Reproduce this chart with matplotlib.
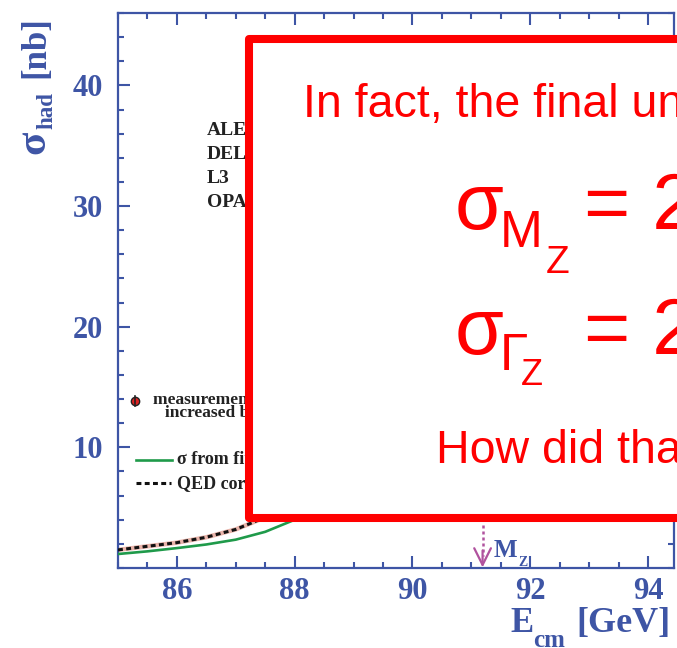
import matplotlib
matplotlib.use("Agg")
import matplotlib.pyplot as plt
from matplotlib.ticker import MultipleLocator
from matplotlib.patches import Rectangle
from matplotlib.lines import Line2D

# hadronic cross-section around the Z pole
e_curve = [85.0, 85.5, 86.0, 86.5, 87.0, 87.5, 88.0, 88.5, 89.0, 89.5, 90.0,
           90.5, 91.0, 91.25, 91.5, 92.0, 92.5, 93.0, 93.5, 94.0, 94.5]
sigma_fit = [1.16, 1.38, 1.65, 1.95, 2.35, 3.0, 4.0, 5.6, 8.1, 11.6, 17.0,
             24.0, 29.4, 30.5, 30.1, 26.3, 21.4, 17.0, 13.4, 10.8, 8.8]
sigma_qed = [1.5, 1.8, 2.1, 2.55, 3.2, 4.2, 5.6, 7.8, 11.2, 16.5, 24.5,
             34.0, 40.6, 41.5, 39.6, 32.4, 24.6, 18.4, 14.0, 10.9, 8.7]

e_meas = [89.43, 90.22, 91.19, 91.97, 92.96, 93.71]
sigma_meas = [11.0, 20.3, 30.4, 26.6, 17.3, 12.3]
err_meas = [0.4, 0.5, 0.6, 0.5, 0.4, 0.4]

experiments = ["ALEPH", "DELPHI", "L3", "OPAL"]
y_ticks = [10, 20, 30, 40]
mz = 91.19

BLUE = "#3E55A5"
GREEN = "#1F9A4A"
RED = "#FF0000"
MAGENTA = "#B0529E"
SERIF = "Liberation Serif"
SANS = "Liberation Sans"

W, H = 677, 648


def px(x, y):
    # pixel position -> figure fraction
    return x / W, 1 - y / H


fig = plt.figure(figsize=(W / 100, H / 100), dpi=100)
ax = fig.add_axes([118 / W, 1 - 568 / H, (674 - 118) / W, (568 - 13) / H])

ax.plot(e_curve, sigma_qed, color="#E9B4AA", lw=3.2, zorder=2)
ax.plot(e_curve, sigma_qed, color="#111111", lw=2.2, ls=(0, (1.6, 1.1)), zorder=3)
ax.plot(e_curve, sigma_fit, color=GREEN, lw=1.9, zorder=3)
ax.errorbar(e_meas, sigma_meas, yerr=err_meas, fmt="o", ms=6, color="#DD2222",
            mec="#222222", ecolor="#222222", elinewidth=1.2, zorder=4)

# M_Z marker
ax.plot([mz, mz], [3.6, 1.0], color=MAGENTA, lw=1.8, ls=(0, (1.2, 1.2)))
ax.annotate("", xy=(mz, 0.05), xytext=(mz, 1.45),
            arrowprops=dict(arrowstyle="->,head_length=1.2,head_width=0.6",
                            color=MAGENTA, lw=1.6, shrinkA=0, shrinkB=0))

ax.set_xlim(85, 94.44)
ax.set_ylim(0, 46)
ax.xaxis.set_major_locator(MultipleLocator(2))
ax.xaxis.set_minor_locator(MultipleLocator(0.5))
ax.set_yticks(y_ticks)
ax.yaxis.set_minor_locator(MultipleLocator(2))
ax.tick_params(which="both", direction="in", top=True, right=True, color=BLUE,
               width=1.5)
ax.tick_params(which="major", length=8.5)
ax.tick_params(which="minor", length=4.5)
ax.tick_params(axis="x", pad=6.5)
ax.tick_params(axis="y", pad=11)
for lab in ax.get_xticklabels() + ax.get_yticklabels():
    lab.set_fontfamily(SERIF)
    lab.set_fontweight("bold")
    lab.set_fontsize(22)
    lab.set_color(BLUE)
for sp in ax.spines.values():
    sp.set_color(BLUE)
    sp.set_linewidth(1.6)

# axis titles
ytitle = dict(rotation=90, rotation_mode="anchor", ha="left", va="baseline",
              color=BLUE, family=SERIF, weight="bold")
fig.text(*px(44, 154), "σ", fontsize=31, **ytitle)
fig.text(*px(52, 129), "had", fontsize=16.5, **ytitle)
fig.text(*px(44, 78), "[nb]", fontsize=25, **ytitle)

xtitle = dict(ha="left", va="baseline", color=BLUE, family=SERIF, weight="bold")
fig.text(*px(510, 632), "E", fontsize=25, **xtitle)
fig.text(*px(533, 647), "cm", fontsize=18, **xtitle)
fig.text(*px(576, 632), "[GeV]", fontsize=26, **xtitle)

fig.text(*px(494, 557), "M", fontsize=18, **xtitle)
fig.text(*px(518, 566), "Z", fontsize=10, **xtitle)

# legend
leg = dict(ha="left", va="baseline", color="#222222", family=SERIF, weight="bold")
for i, name in enumerate(experiments):
    fig.text(*px(207, 135 + 24 * i), name, fontsize=14, **leg)

fig.add_artist(Line2D([px(135, 0)[0]], [px(0, 401)[1]], marker="o", ms=6,
                      color="#DD2222", mec="#222222", transform=fig.transFigure))
fig.add_artist(Line2D([px(135, 0)[0]] * 2, [px(0, 396)[1], px(0, 406)[1]],
                      color="#222222", lw=1.2, transform=fig.transFigure))
fig.text(*px(153, 404), "measurements, error bars", fontsize=12.5, **leg)
fig.text(*px(165, 417), "increased by factor 10", fontsize=12.5, **leg)

fig.add_artist(Line2D([px(136, 0)[0], px(172, 0)[0]], [px(0, 460)[1]] * 2,
                      color=GREEN, lw=1.9, transform=fig.transFigure))
fig.text(*px(177, 464), "σ from fit", fontsize=13, **leg)
fig.add_artist(Line2D([px(136, 0)[0], px(171, 0)[0]], [px(0, 483)[1]] * 2,
                      color="#111111", lw=2.2, ls=(0, (1.6, 1.1)),
                      transform=fig.transFigure))
fig.text(*px(177, 488), "QED corrected", fontsize=13, **leg)

# overlay box
x0, y0 = px(249, 517.5)
x1, y1 = px(760, 39)
fig.add_artist(Rectangle((x0, y0), x1 - x0, y1 - y0, transform=fig.transFigure,
                         facecolor="white", edgecolor=RED, lw=5.8,
                         joinstyle="round", zorder=10))

box = dict(ha="left", va="baseline", color=RED, family=SANS, zorder=11)
fig.text(*px(303, 117), "In fact, the final uncertainties are:", fontsize=33.5, **box)

fig.text(*px(455, 229), "σ", fontsize=57, **box)
fig.text(*px(500, 247), "M", fontsize=37, **box)
fig.text(*px(546, 273), "Z", fontsize=28, **box)
fig.text(*px(584, 229), "= 2.1 MeV", fontsize=57, **box)

fig.text(*px(455, 354), "σ", fontsize=57, **box)
fig.text(*px(500, 370), "Γ", fontsize=37, **box)
fig.text(*px(521, 385), "Z", fontsize=26, **box)
fig.text(*px(584, 354), "= 2.3 MeV", fontsize=57, **box)

fig.text(*px(436, 463), "How did that happen?", fontsize=33.5, **box)

fig.savefig("out.png", dpi=100)
